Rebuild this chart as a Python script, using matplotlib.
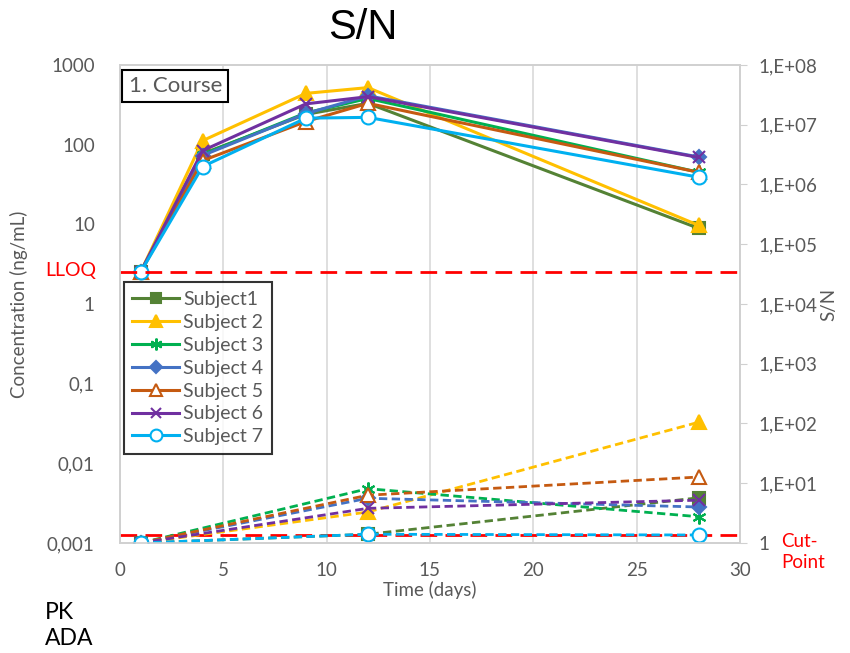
import matplotlib
matplotlib.use('Agg')
import matplotlib.pyplot as plt
from matplotlib.ticker import FixedLocator, FixedFormatter, NullLocator

plt.rcParams['font.family'] = ['Lato', 'DejaVu Sans']

# PK data (ng/mL)
pk_days = [1, 4, 9, 12, 28]
pk = {
    'Subject1': [2.5, 77, 240, 330, 8.9],
    'Subject 2': [2.5, 112, 440, 520, 9.7],
    'Subject 3': [2.5, 75, 250, 380, 45],
    'Subject 4': [2.5, 73, 245, 410, 70],
    'Subject 5': [2.5, 63, 195, 330, 45],
    'Subject 6': [2.5, 84, 325, 400, 69],
    'Subject 7': [2.5, 53, 215, 220, 39],
}

# ADA data (S/N)
ada_days = [1, 12, 28]
ada = {
    'Subject1': [1.0, 1.4, 5.7],
    'Subject 2': [1.0, 3.3, 105],
    'Subject 3': [1.0, 8.1, 2.75],
    'Subject 4': [1.0, 5.6, 4.0],
    'Subject 5': [1.0, 6.3, 12.7],
    'Subject 6': [1.0, 3.8, 5.2],
    'Subject 7': [1.0, 1.4, 1.36],
}

lloq = 2.5
cut_point = 1.36

left_ticks = [0.001, 0.01, 0.1, 1, 10, 100, 1000]
left_labels = ['0,001', '0,01', '0,1', '1', '10', '100', '1000']
right_ticks = [1, 1e1, 1e2, 1e3, 1e4, 1e5, 1e6, 1e7, 1e8]
right_labels = ['1', '1,E+01', '1,E+02', '1,E+03', '1,E+04',
                '1,E+05', '1,E+06', '1,E+07', '1,E+08']

styles = {
    'Subject1': dict(color='#548235', marker='s', mfc='#548235'),
    'Subject 2': dict(color='#FFC000', marker='^', mfc='#FFC000'),
    'Subject 3': dict(color='#00B050', marker=(6, 2, 0), mfc='#00B050'),
    'Subject 4': dict(color='#4472C4', marker='D', mfc='#4472C4'),
    'Subject 5': dict(color='#C55A11', marker='^', mfc='white'),
    'Subject 6': dict(color='#7030A0', marker='x', mfc='#7030A0'),
    'Subject 7': dict(color='#00B0F0', marker='o', mfc='white'),
}
msizes = {'Subject1': 9, 'Subject 2': 10, 'Subject 3': 10, 'Subject 4': 7,
          'Subject 5': 10, 'Subject 6': 9, 'Subject 7': 10}

grey = '#595959'
spine = '#d0d0d0'
fs = 13.5

fig = plt.figure(figsize=(8.5, 6.53), dpi=100)
ax = fig.add_axes([0.141, 0.1685, 0.7296, 0.732])
ax2 = ax.twinx()

handles = []
for name in pk:
    st = styles[name]
    h, = ax.plot(pk_days, pk[name], color=st['color'], lw=2.2,
                 marker=st['marker'], ms=msizes[name], mfc=st['mfc'],
                 mec=st['color'], mew=1.5, label=name)
    handles.append(h)
    ax2.plot(ada_days, ada[name], color=st['color'], lw=2.0, ls=(0, (3, 1.6)),
             marker=st['marker'], ms=msizes[name], mfc=st['mfc'],
             mec=st['color'], mew=1.5)

ax.axhline(lloq, color='red', lw=2, ls=(0, (6, 3)), zorder=5)
ax2.axhline(cut_point, color='red', lw=2, ls=(0, (6, 3)), zorder=1)

ax.set_yscale('log')
ax.set_ylim(0.001, 1000)
ax.yaxis.set_major_locator(FixedLocator(left_ticks))
ax.yaxis.set_major_formatter(FixedFormatter(left_labels))
ax.yaxis.set_minor_locator(NullLocator())

ax2.set_yscale('log')
ax2.set_ylim(1, 1e8)
ax2.yaxis.set_major_locator(FixedLocator(right_ticks))
ax2.yaxis.set_major_formatter(FixedFormatter(right_labels))
ax2.yaxis.set_minor_locator(NullLocator())

ax.set_xlim(0, 30)
ax.set_xticks([0, 5, 10, 15, 20, 25, 30])
ax.grid(axis='x', color='#d9d9d9', lw=1.2)
ax.set_axisbelow(True)

for a in (ax, ax2):
    for s in a.spines.values():
        s.set_color(spine)
        s.set_linewidth(1.2)
ax.tick_params(axis='y', length=0, labelsize=fs, labelcolor=grey, pad=18)
ax.tick_params(axis='x', length=0, labelsize=fs, labelcolor=grey, pad=14)
ax2.tick_params(axis='y', length=5, color=spine, labelsize=fs,
                labelcolor=grey, pad=8)

ax.set_xlabel('Time (days)', fontsize=fs, color=grey, labelpad=1)
ax.set_ylabel('Concentration (ng/mL)', fontsize=fs, color=grey, labelpad=14)
ax2.set_ylabel('S/N', fontsize=fs, color=grey, labelpad=2)

leg = ax2.legend(handles=handles, loc='upper left',
                 bbox_to_anchor=(0.006, 0.545), borderaxespad=0,
                 frameon=True, fancybox=False, edgecolor='black',
                 fontsize=14, handlelength=2.4, handletextpad=0.2,
                 labelspacing=0.3, borderpad=0.45, markerscale=0.85)
leg.get_frame().set_linewidth(1.5)
for t in leg.get_texts():
    t.set_color(grey)

ax2.text(0.014, 0.977, '1. Course', transform=ax.transAxes, fontsize=16,
         color=grey, va='top', ha='left',
         bbox=dict(boxstyle='square,pad=0.28', fc='white', ec='black', lw=1.5))

fig.text(0.427, 0.957, 'S/N', fontsize=30, ha='center', va='center',
         family=['Liberation Sans', 'DejaVu Sans'])
fig.text(0.053, 0.586, 'LLOQ', fontsize=14, color='red', va='center')
fig.text(0.919, 0.155, 'Cut-\nPoint', fontsize=13.5, color='red', va='center',
         linespacing=1.25)
fig.text(0.053, 0.042, 'PK\nADA', fontsize=16.5, color='black', va='center',
         linespacing=1.3)

fig.savefig('out.png', dpi=100)
